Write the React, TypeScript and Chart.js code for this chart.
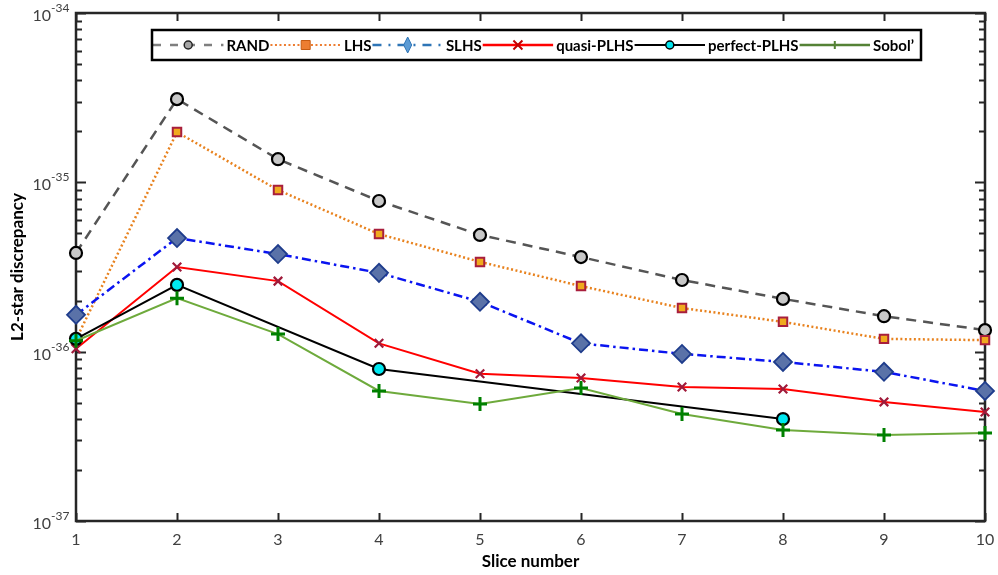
import React, { useEffect, useRef } from 'react';
import { Chart, registerables } from 'chart.js';

Chart.register(...registerables);

// Slice numbers on the x axis
const sliceNumbers = [1, 2, 3, 4, 5, 6, 7, 8, 9, 10];
const xTickLabels = ['1', '2', '3', '4', '5', '6', '7', '8', '9', '10'];
// Decade exponents labelled on the log y axis
const yDecadeExponents = [-37, -36, -35, -34];

// L2-star discrepancy per slice for each design
const randValues = [3.83e-36, 3.1e-35, 1.37e-35, 7.76e-36, 4.89e-36, 3.62e-36, 2.65e-36, 2.05e-36, 1.62e-36, 1.34e-36];
const lhsValues = [1.18e-36, 1.98e-35, 9.0e-36, 4.95e-36, 3.39e-36, 2.44e-36, 1.81e-36, 1.5e-36, 1.19e-36, 1.17e-36];
const slhsValues = [1.65e-36, 4.69e-36, 3.77e-36, 2.92e-36, 1.97e-36, 1.12e-36, 9.7e-37, 8.7e-37, 7.6e-37, 5.86e-37];
const quasiPlhsValues = [1.04e-36, 3.16e-36, 2.61e-36, 1.12e-36, 7.4e-37, 6.99e-37, 6.18e-37, 6.02e-37, 5.05e-37, 4.4e-37];
const perfectPlhsValues: (number | null)[] = [1.19e-36, 2.48e-36, null, 7.9e-37, null, null, null, 4.0e-37, null, null];
const sobolValues = [1.16e-36, 2.07e-36, 1.27e-36, 5.86e-37, 4.91e-37, 6.1e-37, 4.28e-37, 3.45e-37, 3.22e-37, 3.31e-37];

const seriesNames = ['RAND', 'LHS', 'SLHS', 'quasi-PLHS', 'perfect-PLHS', 'Sobol\u2019'];

const FONT = 'Lato, "Open Sans", "DejaVu Sans", sans-serif';
const AXIS_COLOR = '#262626';
const TICK_TEXT = '#404040';

const toPoints = (vals: (number | null)[]) =>
  sliceNumbers.map((x, i) => ({ x, y: vals[i] }));

type Marker = 'circle' | 'square' | 'diamond' | 'x' | 'plus';

function drawMarker(
  ctx: CanvasRenderingContext2D,
  kind: Marker,
  x: number,
  y: number,
  size: number,
  fill: string,
  stroke: string,
  lw: number
) {
  ctx.save();
  ctx.setLineDash([]);
  ctx.lineWidth = lw;
  ctx.strokeStyle = stroke;
  ctx.fillStyle = fill;
  ctx.beginPath();
  if (kind === 'circle') {
    ctx.arc(x, y, size, 0, Math.PI * 2);
    ctx.fill();
    ctx.stroke();
  } else if (kind === 'square') {
    ctx.rect(x - size, y - size, size * 2, size * 2);
    ctx.fill();
    ctx.stroke();
  } else if (kind === 'diamond') {
    ctx.moveTo(x, y - size * 2);
    ctx.lineTo(x + size, y);
    ctx.lineTo(x, y + size * 2);
    ctx.lineTo(x - size, y);
    ctx.closePath();
    ctx.fill();
    ctx.stroke();
  } else if (kind === 'x') {
    ctx.moveTo(x - size, y - size);
    ctx.lineTo(x + size, y + size);
    ctx.moveTo(x + size, y - size);
    ctx.lineTo(x - size, y + size);
    ctx.stroke();
  } else {
    ctx.moveTo(x - size, y);
    ctx.lineTo(x + size, y);
    ctx.moveTo(x, y - size);
    ctx.lineTo(x, y + size);
    ctx.stroke();
  }
  ctx.restore();
}

// Frame, inward ticks and tick labels, drawn beneath the data
const framePlugin = {
  id: 'frame',
  beforeDatasetsDraw(chart: any) {
    const ctx: CanvasRenderingContext2D = chart.ctx;
    const { left, right, top, bottom } = chart.chartArea;
    const xs = chart.scales.x;
    const ys = chart.scales.y;
    ctx.save();
    ctx.strokeStyle = AXIS_COLOR;
    ctx.lineWidth = 2;

    // x ticks on bottom and top edges
    ctx.beginPath();
    sliceNumbers.forEach((v) => {
      const px = Math.round(xs.getPixelForValue(v)) + 0.5;
      ctx.moveTo(px, bottom);
      ctx.lineTo(px, bottom - 8);
      ctx.moveTo(px, top);
      ctx.lineTo(px, top + 8);
    });
    ctx.stroke();

    // y ticks on left and right edges: decades long, 2..9 short
    ctx.beginPath();
    for (let e = yDecadeExponents[0]; e <= yDecadeExponents[yDecadeExponents.length - 1]; e++) {
      for (let m = 1; m <= 9; m++) {
        if (e === yDecadeExponents[yDecadeExponents.length - 1] && m > 1) break;
        const val = m * Math.pow(10, e);
        const py = Math.round(ys.getPixelForValue(val)) + 0.5;
        const len = m === 1 ? 10 : 6;
        ctx.moveTo(left, py);
        ctx.lineTo(left + len, py);
        ctx.moveTo(right, py);
        ctx.lineTo(right - len, py);
      }
    }
    ctx.stroke();

    // box
    ctx.lineWidth = 2.5;
    ctx.strokeRect(left, top, right - left, bottom - top);

    // x tick labels
    ctx.fillStyle = TICK_TEXT;
    ctx.font = `16px ${FONT}`;
    ctx.textAlign = 'center';
    ctx.textBaseline = 'alphabetic';
    sliceNumbers.forEach((v, i) => {
      ctx.fillText(xTickLabels[i], xs.getPixelForValue(v), bottom + 24);
    });

    // y tick labels as 10 with a raised exponent
    yDecadeExponents.forEach((e) => {
      const py = ys.getPixelForValue(Math.pow(10, e));
      ctx.font = `16px ${FONT}`;
      ctx.textAlign = 'right';
      ctx.fillText('10', 51, py + 8);
      ctx.font = `12px ${FONT}`;
      ctx.textAlign = 'left';
      ctx.fillText(String(e).replace('-', '-'), 51, py - 1);
    });

    // axis titles
    ctx.fillStyle = '#000';
    ctx.font = `bold 17px ${FONT}`;
    ctx.textAlign = 'center';
    ctx.textBaseline = 'middle';
    ctx.fillText('Slice number', (left + right) / 2, bottom + 41);
    ctx.save();
    ctx.translate(18, (top + bottom) / 2);
    ctx.rotate(-Math.PI / 2);
    ctx.fillText('L2-star discrepancy', 0, 0);
    ctx.restore();
    ctx.restore();
  },
};

type LegendSpec = {
  color: string;
  dash: number[];
  lw: number;
  marker: Marker;
  size: number;
  fill: string;
  stroke: string;
  mlw: number;
};

const legendSpecs: LegendSpec[] = [
  { color: '#7f7f7f', dash: [8, 9], lw: 2.5, marker: 'circle', size: 4, fill: '#a6a6a6', stroke: '#222', mlw: 1.5 },
  { color: '#ed7d31', dash: [2, 2.5], lw: 2, marker: 'square', size: 4.5, fill: '#ed7d31', stroke: '#c55a11', mlw: 1 },
  { color: '#2e75b6', dash: [9, 7, 2, 7], lw: 2.5, marker: 'diamond', size: 4, fill: '#5b9bd5', stroke: '#2e75b6', mlw: 1 },
  { color: '#ff0000', dash: [], lw: 2.5, marker: 'x', size: 4.5, fill: '#c00000', stroke: '#c00000', mlw: 2 },
  { color: '#000000', dash: [], lw: 2, marker: 'circle', size: 4, fill: '#00e5ee', stroke: '#000', mlw: 1.5 },
  { color: '#548235', dash: [], lw: 2.5, marker: 'plus', size: 4, fill: '#548235', stroke: '#548235', mlw: 2 },
];

// Boxed single-row legend
const legendPlugin = {
  id: 'boxLegend',
  afterDatasetsDraw(chart: any) {
    const ctx: CanvasRenderingContext2D = chart.ctx;
    const boxL = 152;
    const boxR = 921;
    const boxT = 30;
    const boxB = 60;
    const cy = (boxT + boxB) / 2;
    ctx.save();
    ctx.font = `bold 15px ${FONT}`;
    const widths = seriesNames.map((n) => ctx.measureText(n).width);
    const textGap = 3;
    const afterText = 1;
    const rightPad = 6;
    const totalText = widths.reduce((a, b) => a + b, 0);
    const sampleW = (boxR - boxL - 1 - totalText - seriesNames.length * (textGap + afterText) - rightPad) / seriesNames.length;

    ctx.fillStyle = '#fff';
    ctx.fillRect(boxL, boxT, boxR - boxL, boxB - boxT);

    let x = boxL + 1;
    seriesNames.forEach((name, i) => {
      const s = legendSpecs[i];
      ctx.save();
      ctx.strokeStyle = s.color;
      ctx.lineWidth = s.lw;
      ctx.setLineDash(s.dash);
      ctx.beginPath();
      ctx.moveTo(x, cy);
      ctx.lineTo(x + sampleW, cy);
      ctx.stroke();
      ctx.restore();
      drawMarker(ctx, s.marker, x + sampleW / 2, cy, s.size, s.fill, s.stroke, s.mlw);
      ctx.fillStyle = '#000';
      ctx.textAlign = 'left';
      ctx.textBaseline = 'middle';
      ctx.fillText(name, x + sampleW + textGap, cy + 1);
      x += sampleW + textGap + widths[i] + afterText;
    });

    ctx.strokeStyle = '#000';
    ctx.lineWidth = 2.5;
    ctx.setLineDash([]);
    ctx.strokeRect(boxL, boxT, boxR - boxL, boxB - boxT);
    ctx.restore();
  },
};

export default function App() {
  const canvasRef = useRef<HTMLCanvasElement | null>(null);

  useEffect(() => {
    if (!canvasRef.current) return;
    const chart = new Chart(canvasRef.current, {
      type: 'line',
      data: {
        datasets: [
          {
            label: seriesNames[0],
            data: toPoints(randValues),
            borderColor: '#555555',
            borderWidth: 2.5,
            borderDash: [10, 7],
            pointStyle: 'circle',
            pointRadius: 6,
            pointBackgroundColor: '#c8c8c8',
            pointBorderColor: '#000000',
            pointBorderWidth: 2.2,
            order: 6,
          },
          {
            label: seriesNames[1],
            data: toPoints(lhsValues),
            borderColor: '#e8821e',
            borderWidth: 2.5,
            borderDash: [2, 2.5],
            pointStyle: 'rect',
            pointRadius: 6,
            pointBackgroundColor: '#f0aa1e',
            pointBorderColor: '#a81e3c',
            pointBorderWidth: 2,
            order: 5,
          },
          {
            label: seriesNames[2],
            data: toPoints(slhsValues),
            borderColor: '#0a14f0',
            borderWidth: 2.5,
            borderDash: [9, 4, 2.5, 4],
            pointStyle: 'rectRot',
            pointRadius: 9,
            pointBackgroundColor: '#5a72a8',
            pointBorderColor: '#1e3c8c',
            pointBorderWidth: 1.8,
            order: 4,
          },
          {
            label: seriesNames[3],
            data: toPoints(quasiPlhsValues),
            borderColor: '#ff0000',
            borderWidth: 2,
            pointStyle: 'crossRot',
            pointRadius: 6,
            pointBorderColor: '#a01a3a',
            pointBorderWidth: 2.2,
            order: 3,
          },
          {
            label: seriesNames[4],
            data: toPoints(perfectPlhsValues),
            borderColor: '#000000',
            borderWidth: 2,
            spanGaps: true,
            pointStyle: 'circle',
            pointRadius: 6,
            pointBackgroundColor: '#00e8f0',
            pointBorderColor: '#000000',
            pointBorderWidth: 2.2,
            order: 2,
          },
          {
            label: seriesNames[5],
            data: toPoints(sobolValues),
            borderColor: '#6eaa3c',
            borderWidth: 2,
            pointStyle: 'cross',
            pointRadius: 7,
            pointBorderColor: '#008000',
            pointBorderWidth: 3,
            order: 1,
          },
        ],
      },
      options: {
        animation: false,
        responsive: false,
        maintainAspectRatio: false,
        layout: { padding: { left: 76, right: 13, top: 13, bottom: 54 } },
        elements: { line: { tension: 0 } },
        datasets: { line: { clip: false } } as any,
        plugins: {
          legend: { display: false },
          tooltip: { enabled: false },
        },
        scales: {
          x: { type: 'linear', min: 1, max: 10, display: false },
          y: { type: 'logarithmic', min: 1e-37, max: 1e-34, display: false },
        },
      },
      plugins: [framePlugin, legendPlugin],
    });
    return () => chart.destroy();
  }, []);

  return (
    <div style={{ position: 'fixed', left: 0, top: 0, width: 998, height: 575, background: '#fff' }}>
      <canvas ref={canvasRef} width={998} height={575} style={{ display: 'block' }} />
    </div>
  );
}
